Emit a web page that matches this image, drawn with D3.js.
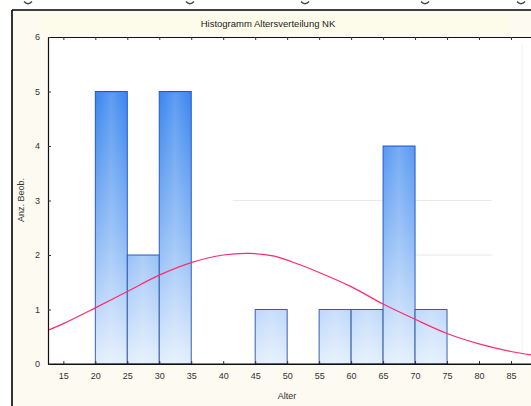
<!DOCTYPE html>
<html>
<head>
<meta charset="utf-8">
<script src="https://cdn.jsdelivr.net/npm/d3@7/dist/d3.min.js"></script>
<style>
  html, body { margin: 0; padding: 0; background: #ffffff; }
  svg { display: block; }
  text { font-family: "Liberation Sans", Arial, sans-serif; }
</style>
</head>
<body>
<svg id="chart" width="531" height="406"></svg>
<script>
// ---- data ----
const binStarts = [20, 25, 30, 45, 55, 60, 65, 70];
const binEnds   = [25, 30, 35, 50, 60, 65, 70, 75];
const counts    = [5, 2, 5, 1, 1, 1, 4, 1];
const xTicks = [15, 20, 25, 30, 35, 40, 45, 50, 55, 60, 65, 70, 75, 80, 85];
const yTicks = [0, 1, 2, 3, 4, 5, 6];
// fitted normal curve
const curveX = [12.6, 15, 20, 25, 30, 35, 40, 44, 48, 52, 55, 60, 65, 70, 75, 80, 85, 88.6];
const curveY = [0.62, 0.74, 1.03, 1.33, 1.63, 1.86, 2.00, 2.03, 1.98, 1.82, 1.68, 1.42, 1.10, 0.82, 0.56, 0.37, 0.23, 0.16];
const title = "Histogramm Altersverteilung NK";
const xLabel = "Alter";
const yLabel = "Anz. Beob.";

// ---- layout ----
const svg = d3.select("#chart");
const plotL = 48, plotT = 37, plotB = 364, plotR = 534;
const x = d3.scaleLinear().domain([12.6, 88.6]).range([plotL, plotR]);
const y = d3.scaleLinear().domain([0, 6]).range([plotB, plotT]);

// fragments of the cropped document line above the frame (glyph descenders)
svg.append("g").selectAll("path").data([28, 190, 305, 425, 521]).join("path")
  .attr("d", d => `M${d - 4},1.5 Q${d},6 ${d + 4},1.5`)
  .attr("fill", "none").attr("stroke", "#444").attr("stroke-width", 1.4);

// frame background
svg.append("rect").attr("x", 12).attr("y", 10).attr("width", 530).attr("height", 400)
  .attr("fill", "#fcfaf1");
svg.append("rect").attr("x", 40).attr("y", 14).attr("width", 470).attr("height", 19)
  .attr("fill", "#fdfbe9").attr("opacity", 0.8);
// plot area
svg.append("rect").attr("x", plotL).attr("y", plotT).attr("width", plotR - plotL).attr("height", plotB - plotT)
  .attr("fill", "#ffffff");

// frame lines
svg.append("line").attr("x1", 12).attr("x2", 12).attr("y1", 10).attr("y2", 406)
  .attr("stroke", "#000").attr("stroke-width", 1.6);
svg.append("line").attr("x1", 12).attr("x2", 531).attr("y1", 10).attr("y2", 10)
  .attr("stroke", "#000").attr("stroke-width", 1.6);

// faint ghost lines
const ghost = svg.append("g").attr("stroke", "#e9e9e9").attr("stroke-width", 1);
ghost.append("line").attr("x1", x(41.5)).attr("x2", x(82)).attr("y1", y(3)).attr("y2", y(3));
ghost.append("line").attr("x1", x(68.5)).attr("x2", x(82)).attr("y1", y(2)).attr("y2", y(2));
ghost.append("line").attr("x1", 522).attr("x2", 522).attr("y1", 45).attr("y2", 360).attr("stroke", "#f0f0f0");

// title
svg.append("text").attr("x", 268).attr("y", 27).attr("text-anchor", "middle")
  .attr("font-size", 9.5).attr("fill", "#222").text(title);

// gradients
const defs = svg.append("defs");
const gFill = defs.append("linearGradient").attr("id", "barFill")
  .attr("gradientUnits", "userSpaceOnUse").attr("x1", 0).attr("x2", 0)
  .attr("y1", y(5)).attr("y2", y(0));
gFill.append("stop").attr("offset", 0).attr("stop-color", "#3a86ee");
gFill.append("stop").attr("offset", 0.5).attr("stop-color", "#86b6f5");
gFill.append("stop").attr("offset", 1).attr("stop-color", "#e3effd");
const gStroke = defs.append("linearGradient").attr("id", "barStroke")
  .attr("gradientUnits", "userSpaceOnUse").attr("x1", 0).attr("x2", 0)
  .attr("y1", y(5)).attr("y2", y(0));
gStroke.append("stop").attr("offset", 0).attr("stop-color", "#1b55d8");
gStroke.append("stop").attr("offset", 1).attr("stop-color", "#3c5fa8");
const gShine = defs.append("linearGradient").attr("id", "barShine")
  .attr("x1", 0).attr("x2", 1).attr("y1", 0).attr("y2", 0);
gShine.append("stop").attr("offset", 0).attr("stop-color", "#fff").attr("stop-opacity", 0);
gShine.append("stop").attr("offset", 0.5).attr("stop-color", "#fff").attr("stop-opacity", 0.18);
gShine.append("stop").attr("offset", 1).attr("stop-color", "#fff").attr("stop-opacity", 0);

// bars
const bars = binStarts.map((s, i) => ({ s, e: binEnds[i], c: counts[i] }));
svg.append("g").selectAll("rect").data(bars).join("rect")
  .attr("x", d => x(d.s)).attr("width", d => x(d.e) - x(d.s))
  .attr("y", d => y(d.c)).attr("height", d => y(0) - y(d.c))
  .attr("fill", "url(#barFill)").attr("stroke", "url(#barStroke)").attr("stroke-width", 1);
svg.append("g").selectAll("rect").data(bars).join("rect")
  .attr("x", d => x(d.s) + 1).attr("width", d => x(d.e) - x(d.s) - 2)
  .attr("y", d => y(d.c) + 1).attr("height", d => y(0) - y(d.c) - 1)
  .attr("fill", "url(#barShine)");

// normal curve
const pts = curveX.map((v, i) => [v, curveY[i]]);
svg.append("path").datum(pts)
  .attr("d", d3.line().x(d => x(d[0])).y(d => y(d[1])).curve(d3.curveCatmullRom.alpha(0.5)))
  .attr("fill", "none").attr("stroke", "#ff2a6d").attr("stroke-width", 1.2);

// axes
const axisCol = "#111";
const xb = svg.append("g").attr("transform", `translate(0,${plotB})`)
  .call(d3.axisBottom(x).tickValues(xTicks).tickSize(-3).tickPadding(9).tickSizeOuter(0));
const xt = svg.append("g").attr("transform", `translate(0,${plotT})`)
  .call(d3.axisTop(x).tickValues(xTicks).tickSize(-3).tickFormat("").tickSizeOuter(0));
const yl = svg.append("g").attr("transform", `translate(${plotL},0)`)
  .call(d3.axisLeft(y).tickValues(yTicks).tickSize(-3).tickPadding(8).tickSizeOuter(0).tickFormat(d3.format("d")));
[xb, xt, yl].forEach(g => {
  g.select(".domain").attr("stroke", axisCol).attr("stroke-width", 1.2);
  g.selectAll(".tick line").attr("stroke", "#333");
  g.selectAll("text").attr("font-size", 9).attr("fill", "#333")
    .attr("font-family", "'Liberation Sans', Arial, sans-serif");
});
svg.append("line").attr("x1", plotL).attr("x2", plotR).attr("y1", plotB).attr("y2", plotB)
  .attr("stroke", axisCol).attr("stroke-width", 1.2);

// axis labels
svg.append("text").attr("x", 287).attr("y", 399).attr("text-anchor", "middle")
  .attr("font-size", 9).attr("fill", "#333").text(xLabel);
svg.append("text").attr("transform", "translate(24,200) rotate(-90)").attr("text-anchor", "middle")
  .attr("font-size", 9).attr("fill", "#333").text(yLabel);
</script>
</body>
</html>
